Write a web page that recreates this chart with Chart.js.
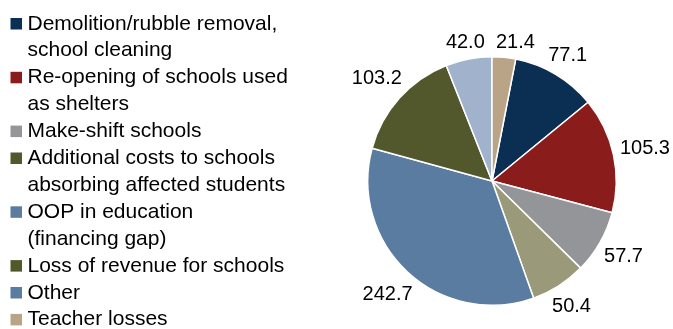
<!DOCTYPE html>
<html>
<head>
<meta charset="utf-8">
<script src="https://cdn.jsdelivr.net/npm/chart.js@4.4.1/dist/chart.umd.min.js"></script>
<style>
  html, body { margin: 0; padding: 0; background: #fff; }
  #wrap { width: 673px; height: 329px; position: relative; }
</style>
</head>
<body>
<div id="wrap"><canvas id="pieChart"></canvas></div>
<script>
const labels = [
  ['Demolition/rubble removal,', 'school cleaning'],
  ['Re-opening of schools used', 'as shelters'],
  ['Make-shift schools'],
  ['Additional costs to schools', 'absorbing affected students'],
  ['OOP in education', '(financing gap)'],
  ['Loss of revenue for schools'],
  ['Other'],
  ['Teacher losses']
];
const values = [77.1, 105.3, 57.7, 50.4, 242.7, 103.2, 42.0, 21.4];
const sliceColors = ['#0b2f52', '#8b1c1c', '#939598', '#9a9a7a', '#5a7ca0', '#52582c', '#a0b2cc', '#baa488'];
const legendColors = ['#0b2f52', '#8b1c1c', '#939598', '#52582c', '#5a7ca0', '#52582c', '#5a7ca0', '#baa488'];

const LEGEND_FONT = '21px "Liberation Sans", Arial, sans-serif';
const LABEL_FONT = '20px "Liberation Sans", Arial, sans-serif';
const total = values.reduce((a, b) => a + b, 0);
// last slice (Teacher losses) sits just right of 12 o'clock
const startRotation = values[values.length - 1] / total * 360;

// legend on the left, drawn line by line
const sideLegend = {
  id: 'sideLegend',
  afterDraw(chart) {
    const ctx = chart.ctx;
    ctx.save();
    ctx.font = LEGEND_FONT;
    ctx.textBaseline = 'alphabetic';
    let y = 29.5;
    const lineH = 26.9;
    chart.data.labels.forEach((lines, i) => {
      ctx.fillStyle = legendColors[i];
      ctx.fillRect(10.5, y - 11.5, 11.5, 11.5);
      ctx.fillStyle = '#000';
      lines.forEach(t => {
        ctx.fillText(t, 27.5, y);
        y += lineH;
      });
    });
    ctx.restore();
  }
};

// value labels outside each slice, nudged round the pie if two collide
const outsideLabels = {
  id: 'outsideLabels',
  afterDatasetsDraw(chart) {
    const ctx = chart.ctx;
    const meta = chart.getDatasetMeta(0);
    ctx.save();
    ctx.font = LABEL_FONT;
    ctx.fillStyle = '#000';
    ctx.textAlign = 'center';
    ctx.textBaseline = 'middle';
    const h = 17;
    const placed = [];
    const boxAt = (arc, a, w) => {
      const d = arc.outerRadius + 6 + Math.abs(Math.cos(a)) * w / 2 + Math.abs(Math.sin(a)) * h / 2;
      const x = arc.x + Math.cos(a) * d;
      const y = arc.y + Math.sin(a) * d;
      return { x, y, l: x - w / 2, r: x + w / 2, t: y - h / 2, b: y + h / 2 };
    };
    const hits = (p, q) => p.l < q.r + 10 && q.l < p.r + 10 && p.t < q.b && q.t < p.b;
    meta.data.forEach((arc, i) => {
      const txt = values[i].toFixed(1);
      const w = ctx.measureText(txt).width;
      let a = (arc.startAngle + arc.endAngle) / 2;
      let box = boxAt(arc, a, w);
      let n = 0;
      while (placed.some(p => hits(p, box)) && n < 40) {
        a += Math.PI / 360;
        box = boxAt(arc, a, w);
        n++;
      }
      placed.push(box);
      ctx.fillText(txt, box.x, box.y + 1);
    });
    ctx.restore();
  }
};

new Chart(document.getElementById('pieChart'), {
  type: 'pie',
  data: {
    labels: labels,
    datasets: [{
      data: values,
      backgroundColor: sliceColors,
      borderColor: '#ffffff',
      borderWidth: 1.5
    }]
  },
  options: {
    responsive: true,
    maintainAspectRatio: false,
    animation: false,
    rotation: startRotation,
    layout: {
      padding: { left: 367, right: 56, top: 56, bottom: 23 }
    },
    plugins: {
      legend: { display: false },
      tooltip: { enabled: false }
    }
  },
  plugins: [sideLegend, outsideLabels]
});
</script>
</body>
</html>
